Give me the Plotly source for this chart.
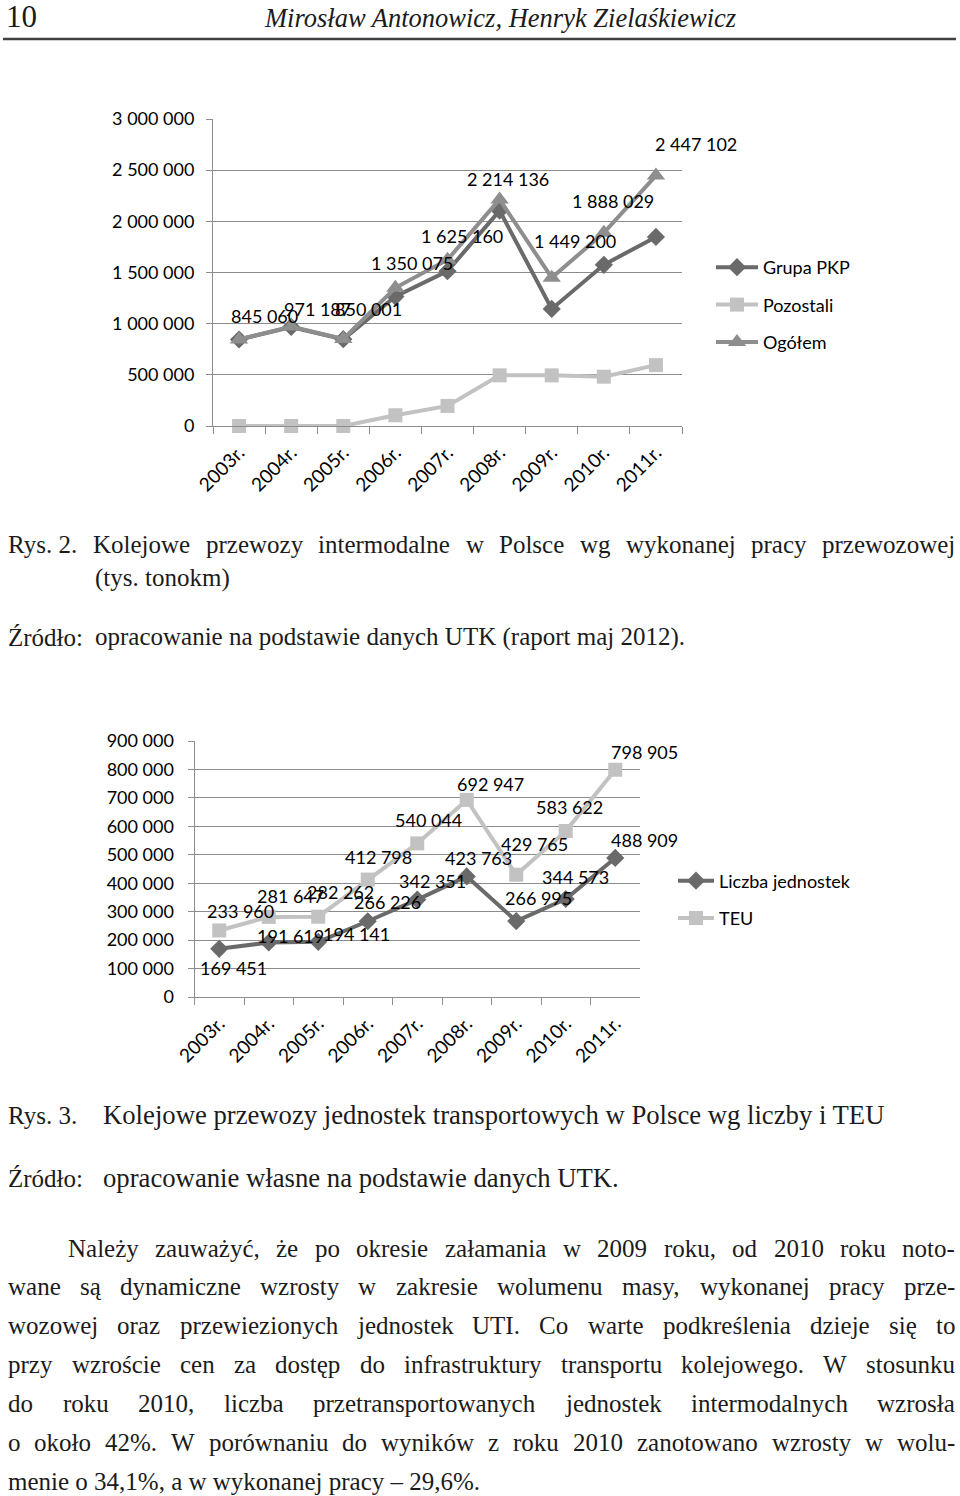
import plotly.graph_objects as go

W, H = 960, 1496

# ---------------- data ----------------
years = ["2003r.", "2004r.", "2005r.", "2006r.", "2007r.", "2008r.", "2009r.", "2010r.", "2011r."]

grupa_pkp = [845060, 968000, 848000, 1265000, 1513000, 2105000, 1144000, 1575000, 1848000]
pozostali = [0, 0, 0, 105000, 196000, 495000, 495000, 482000, 595000]
ogolem = [845060, 971187, 850001, 1350075, 1625160, 2214136, 1449200, 1888029, 2447102]

liczba_jednostek = [169451, 191619, 194141, 266226, 342351, 423763, 266995, 344573, 488909]
teu = [233960, 281647, 282262, 412798, 540044, 692947, 429765, 583622, 798905]

y1_ticks = [0, 500000, 1000000, 1500000, 2000000, 2500000, 3000000]
y2_ticks = [0, 100000, 200000, 300000, 400000, 500000, 600000, 700000, 800000, 900000]

# label offsets (pixels, right / down) – styling only
og_dx = [25, 26, 25, 17, 14, 8, 23, 9, 40]
og_dy = [-24, -18, -30, -25, -24, -20, -37, -32, -32]
lj_dx = [14, 22, 38, 20, 15, 12, 22, 10, 29]
lj_dy = [19, -7, -8, -19, -19, -18, -23, -22, -18]
teu_dx = [21, 22, 22, 11, 11, 24, 18, 4, 29]
teu_dy = [-19, -21, -25, -23, -23, -16, -31, -24, -18]

C_DARK = "#6a6a6a"
C_MID = "#8e8e8e"
C_LIGHT = "#c2c2c2"
C_GRID = "#8c8c8c"
CH_FONT = "Lato"


def X(px):
    return px / W


def Y(py):
    return 1 - py / H


def fmt(v):
    return f"{v:,}".replace(",", " ")


fig = go.Figure()

# ---------------- chart 1 ----------------
fig.add_trace(go.Scatter(x=years, y=grupa_pkp, name="Grupa PKP", mode="lines+markers",
                         line=dict(color=C_DARK, width=4),
                         marker=dict(symbol="diamond", size=14, color=C_DARK),
                         xaxis="x", yaxis="y", legend="legend", legendgroup="a",
                         cliponaxis=False))
fig.add_trace(go.Scatter(x=years, y=pozostali, name="Pozostali", mode="lines+markers",
                         line=dict(color=C_LIGHT, width=4),
                         marker=dict(symbol="square", size=14, color=C_LIGHT),
                         xaxis="x", yaxis="y", legend="legend", legendgroup="b",
                         cliponaxis=False))
fig.add_trace(go.Scatter(x=years, y=ogolem, name="Ogółem", mode="lines+markers",
                         line=dict(color=C_MID, width=4),
                         marker=dict(symbol="triangle-up", size=16, color=C_MID),
                         xaxis="x", yaxis="y", legend="legend", legendgroup="c",
                         cliponaxis=False))

# ---------------- chart 2 ----------------
fig.add_trace(go.Scatter(x=years, y=liczba_jednostek, name="Liczba jednostek", mode="lines+markers",
                         line=dict(color=C_DARK, width=4),
                         marker=dict(symbol="diamond", size=14, color=C_DARK),
                         xaxis="x2", yaxis="y2", legend="legend2", legendgroup="d",
                         cliponaxis=False))
fig.add_trace(go.Scatter(x=years, y=teu, name="TEU", mode="lines+markers",
                         line=dict(color=C_LIGHT, width=4),
                         marker=dict(symbol="square", size=14, color=C_LIGHT),
                         xaxis="x2", yaxis="y2", legend="legend2", legendgroup="e",
                         cliponaxis=False))

annotations = []
for i, yr in enumerate(years):
    annotations.append(dict(x=yr, y=ogolem[i], xref="x", yref="y", text=fmt(ogolem[i]),
                            showarrow=False, xshift=og_dx[i], yshift=-og_dy[i],
                            font=dict(family=CH_FONT, size=18, color="#000")))
    annotations.append(dict(x=yr, y=liczba_jednostek[i], xref="x2", yref="y2",
                            text=fmt(liczba_jednostek[i]),
                            showarrow=False, xshift=lj_dx[i], yshift=-lj_dy[i],
                            font=dict(family=CH_FONT, size=18, color="#000")))
    annotations.append(dict(x=yr, y=teu[i], xref="x2", yref="y2", text=fmt(teu[i]),
                            showarrow=False, xshift=teu_dx[i], yshift=-teu_dy[i],
                            font=dict(family=CH_FONT, size=18, color="#000")))

# ---------------- page text ----------------
TW = {' ': 250, '!': 333, '%': 833, '(': 333, ')': 333, ',': 250, '-': 333, '.': 250,
      ':': 278, ';': 278, '–': 500,
      'A': 722, 'B': 667, 'C': 667, 'D': 722, 'E': 611, 'F': 556, 'G': 722, 'H': 722, 'I': 333,
      'J': 389, 'K': 722, 'L': 611, 'M': 889, 'N': 722, 'O': 722, 'P': 556, 'Q': 722, 'R': 667,
      'S': 556, 'T': 611, 'U': 722, 'V': 722, 'W': 944, 'X': 722, 'Y': 722, 'Z': 611,
      'a': 444, 'b': 500, 'c': 444, 'd': 500, 'e': 444, 'f': 333, 'g': 500, 'h': 500, 'i': 278,
      'j': 278, 'k': 500, 'l': 278, 'm': 778, 'n': 500, 'o': 500, 'p': 500, 'q': 500, 'r': 333,
      's': 389, 't': 278, 'u': 500, 'v': 500, 'w': 722, 'x': 500, 'y': 500, 'z': 444,
      'ą': 444, 'ć': 444, 'ę': 444, 'ł': 278, 'ń': 500, 'ó': 500, 'ś': 389, 'ź': 444, 'ż': 444,
      'Ź': 611, 'Ż': 611, 'Ś': 556, 'Ł': 611}
TFONT = "Liberation Serif"
TSIZE = 25
TCOLOR = "#1b1b1b"


def wwidth(word, size=TSIZE):
    return sum(TW.get(ch, 500) for ch in word) / 1000 * size


def text_at(txt, px, py, size=TSIZE, italic=False, anchor="left"):
    annotations.append(dict(x=X(px), y=Y(py), xref="paper", yref="paper", text=txt,
                            xanchor=anchor, yanchor="middle", showarrow=False,
                            borderpad=0, borderwidth=0,
                            font=dict(family=TFONT, size=size, color=TCOLOR,
                                      style="italic" if italic else "normal")))


def line_at(txt, x0, x1, py, justify=True):
    words = txt.split(" ")
    if not justify or len(words) == 1:
        text_at(txt, x0, py)
        return
    total = sum(wwidth(w) for w in words)
    gap = (x1 - x0 - total) / (len(words) - 1)
    x = x0
    for w in words:
        text_at(w, x, py)
        x += wwidth(w) + gap


# header
text_at("10", 6, 17, size=31)
text_at("Mirosław Antonowicz, Henryk Zielaśkiewicz", 500, 18, size=26.5, italic=True, anchor="center")

# caption 2
text_at("Rys. 2.", 8, 545)
line_at("Kolejowe przewozy intermodalne w Polsce wg wykonanej pracy przewozowej", 93, 955, 545)
text_at("(tys. tonokm)", 95, 578)
text_at("Źródło:", 8, 637)
text_at("opracowanie na podstawie danych UTK (raport maj 2012).", 95, 637)

# caption 3
text_at("Rys. 3.", 8, 1115)
text_at("Kolejowe przewozy jednostek transportowych w Polsce wg liczby i TEU", 103, 1115, size=26.7)
text_at("Źródło:", 8, 1178)
text_at("opracowanie własne na podstawie danych UTK.", 103, 1178, size=26.7)

para = [
    ("Należy zauważyć, że po okresie załamania w 2009 roku, od 2010 roku noto-", 68, True),
    ("wane są dynamiczne wzrosty w zakresie wolumenu masy, wykonanej pracy prze-", 8, True),
    ("wozowej oraz przewiezionych jednostek UTI. Co warte podkreślenia dzieje się to", 8, True),
    ("przy wzroście cen za dostęp do infrastruktury transportu kolejowego. W stosunku", 8, True),
    ("do roku 2010, liczba przetransportowanych jednostek intermodalnych wzrosła", 8, True),
    ("o około 42%. W porównaniu do wyników z roku 2010 zanotowano wzrosty w wolu-", 8, True),
    ("menie o 34,1%, a w wykonanej pracy – 29,6%.", 8, False),
]
for k, (txt, x0, j) in enumerate(para):
    line_at(txt, x0, 955, 1248 + k * 38.85, justify=j)

axis_common = dict(showline=True, linecolor=C_GRID, linewidth=1, ticks="outside",
                   tickcolor=C_GRID, automargin=False)
yfont = dict(family=CH_FONT, size=18, color="#000")
xfont = dict(family=CH_FONT, size=19, color="#000")
xrange = [-0.5, len(years) - 0.5]

fig.update_layout(
    width=W, height=H, margin=dict(l=0, r=0, t=0, b=0, autoexpand=False),
    paper_bgcolor="white", plot_bgcolor="white",
    separators=", ",
    showlegend=True,
    annotations=annotations,
    shapes=[dict(type="line", xref="paper", yref="paper", x0=X(3), x1=X(956), y0=Y(39), y1=Y(39),
                 line=dict(color="#404040", width=2.5))],
    xaxis=dict(domain=[X(213), X(682)], anchor="y", type="category", categoryorder="array",
               categoryarray=years, range=xrange, autorange=False, tickson="boundaries",
               ticklen=7, tickangle=-45, ticklabelstandoff=7, showgrid=False, tickfont=xfont,
               **axis_common),
    yaxis=dict(domain=[Y(426), Y(119)], anchor="x", range=[0, 3000000], tickvals=y1_ticks,
               tickformat=",d", showgrid=True, gridcolor=C_GRID, gridwidth=1, ticklen=6,
               ticklabelstandoff=8, zeroline=False, tickfont=yfont, **axis_common),
    xaxis2=dict(domain=[X(194.5), X(640)], anchor="y2", type="category", categoryorder="array",
                categoryarray=years, range=xrange, autorange=False, tickson="boundaries",
                ticklen=7, tickangle=-45, ticklabelstandoff=7, showgrid=False, tickfont=xfont,
                **axis_common),
    yaxis2=dict(domain=[Y(997), Y(741)], anchor="x2", range=[0, 900000], tickvals=y2_ticks,
                tickformat=",d", showgrid=True, gridcolor=C_GRID, gridwidth=1, ticklen=6,
                ticklabelstandoff=10, zeroline=False, tickfont=yfont, **axis_common),
    legend=dict(x=X(711), y=Y(305), xanchor="left", yanchor="middle",
                font=dict(family=CH_FONT, size=18, color="#000"),
                itemwidth=42, tracegroupgap=11, bgcolor="rgba(0,0,0,0)"),
    legend2=dict(x=X(673), y=Y(899.5), xanchor="left", yanchor="middle",
                 font=dict(family=CH_FONT, size=18, color="#000"),
                 itemwidth=36, tracegroupgap=11, bgcolor="rgba(0,0,0,0)"),
)

fig.write_html("out.html")
